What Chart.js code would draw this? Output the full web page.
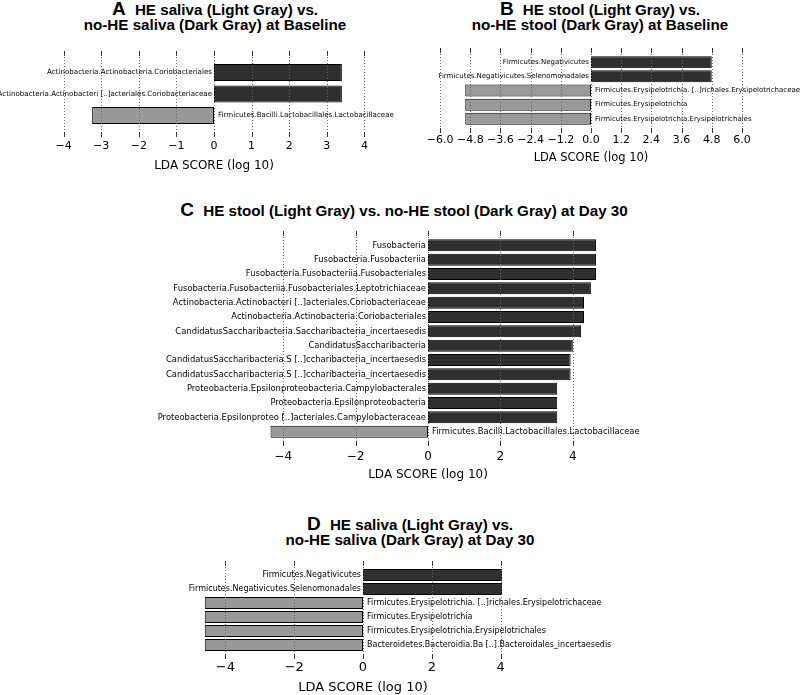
<!DOCTYPE html>
<html>
<head>
<meta charset="utf-8">
<script src="https://cdn.jsdelivr.net/npm/chart.js@4"></script>
<style>
  body { margin: 0; background: #fff; }
  #page { position: relative; width: 800px; height: 695px; overflow: hidden; }
  canvas { position: absolute; }
  .ttl { position: absolute; text-align: center; font-family: "Liberation Sans", Arial, sans-serif;
         font-weight: bold; font-size: 15.2px; line-height: 15px; color: #000; }
  .big { font-size: 19px; line-height: 15px; margin-right: 5px; }
</style>
</head>
<body>
<div id="page">
  <div class="ttl" style="left:15px;top:1px;width:400px">
    <div><span class="big">A</span> HE saliva (Light Gray) vs.</div>
    <div>no-HE saliva (Dark Gray) at Baseline</div>
  </div>
  <div class="ttl" style="left:400px;top:1px;width:400px">
    <div><span class="big">B</span> HE stool (Light Gray) vs.</div>
    <div>no-HE stool (Dark Gray) at Baseline</div>
  </div>
  <div class="ttl" style="left:4px;top:202px;width:800px">
    <div><span class="big">C</span> HE stool (Light Gray) vs. no-HE stool (Dark Gray) at Day 30</div>
  </div>
  <div class="ttl" style="left:10px;top:516px;width:800px">
    <div><span class="big">D</span> HE saliva (Light Gray) vs.</div>
    <div>no-HE saliva (Dark Gray) at Day 30</div>
  </div>
  <canvas id="chartA" width="400" height="140" style="left:0;top:40px"></canvas>
  <canvas id="chartB" width="400" height="140" style="left:400px;top:40px"></canvas>
  <canvas id="chartC" width="800" height="270" style="left:0;top:220px"></canvas>
  <canvas id="chartD" width="800" height="140" style="left:0;top:555px"></canvas>
</div>
<script>
// panel A - saliva at baseline
const labelsA = [
  'Actinobacteria.Actinobacteria.Coriobacteriales',
  'Actinobacteria.Actinobacteri [..]acteriales.Coriobacteriaceae',
  'Firmicutes.Bacilli.Lactobacillales.Lactobacillaceae'
];
const scoresA = [3.4, 3.4, -3.24];
const ticksA = [-4, -3, -2, -1, 0, 1, 2, 3, 4];

// panel B - stool at baseline
const labelsB = [
  'Firmicutes.Negativicutes',
  'Firmicutes.Negativicutes.Selenomonadales',
  'Firmicutes.Erysipelotrichia. [..]richales.Erysipelotrichaceae',
  'Firmicutes.Erysipelotrichia',
  'Firmicutes.Erysipelotrichia.Erysipelotrichales'
];
const scoresB = [4.8, 4.8, -5.0, -5.0, -5.0];
const ticksB = [-6.0, -4.8, -3.6, -2.4, -1.2, 0.0, 1.2, 2.4, 3.6, 4.8, 6.0];

// panel C - stool at day 30
const labelsC = [
  'Fusobacteria',
  'Fusobacteria.Fusobacteriia',
  'Fusobacteria.Fusobacteriia.Fusobacteriales',
  'Fusobacteria.Fusobacteriia.Fusobacteriales.Leptotrichiaceae',
  'Actinobacteria.Actinobacteri [..]acteriales.Coriobacteriaceae',
  'Actinobacteria.Actinobacteria.Coriobacteriales',
  'CandidatusSaccharibacteria.Saccharibacteria_incertaesedis',
  'CandidatusSaccharibacteria',
  'CandidatusSaccharibacteria.S [..]ccharibacteria_incertaesedis',
  'CandidatusSaccharibacteria.S [..]ccharibacteria_incertaesedis',
  'Proteobacteria.Epsilonproteobacteria.Campylobacterales',
  'Proteobacteria.Epsilonproteobacteria',
  'Proteobacteria.Epsilonproteo [..]acteriales.Campylobacteraceae',
  'Firmicutes.Bacilli.Lactobacillales.Lactobacillaceae'
];
const scoresC = [4.64, 4.64, 4.64, 4.5, 4.31, 4.31, 4.23, 4.0, 3.94, 3.94, 3.57, 3.57, 3.57, -4.35];
const ticksC = [-4, -2, 0, 2, 4];

// panel D - saliva at day 30
const labelsD = [
  'Firmicutes.Negativicutes',
  'Firmicutes.Negativicutes.Selenomonadales',
  'Firmicutes.Erysipelotrichia. [..]richales.Erysipelotrichaceae',
  'Firmicutes.Erysipelotrichia',
  'Firmicutes.Erysipelotrichia.Erysipelotrichales',
  'Bacteroidetes.Bacteroidia.Ba [..].Bacteroidales_incertaesedis'
];
const scoresD = [4.04, 4.04, -4.6, -4.6, -4.6, -4.6];
const ticksD = [-4, -2, 0, 2, 4];

const DARK = '#2f2f2f';
const LIGHT = '#999999';

// dotted grid, inward tick marks and the names next to the zero line
const lefsePlugin = {
  id: 'lefse',
  afterDatasetsDraw(chart, args, opts) {
    const { ctx, chartArea } = chart;
    const xs = chart.scales.x;
    ctx.save();
    ctx.strokeStyle = '#666';
    ctx.lineWidth = 1;
    ctx.setLineDash([1, 2]);
    opts.ticks.forEach(v => {
      const px = Math.round(xs.getPixelForValue(v)) + 0.5;
      ctx.beginPath();
      ctx.moveTo(px, chartArea.top);
      ctx.lineTo(px, chartArea.bottom);
      ctx.stroke();
    });
    ctx.setLineDash([]);
    ctx.strokeStyle = '#333';
    opts.ticks.forEach(v => {
      const px = Math.round(xs.getPixelForValue(v)) + 0.5;
      ctx.beginPath();
      ctx.moveTo(px, chartArea.top);
      ctx.lineTo(px, chartArea.top + 5);
      ctx.moveTo(px, chartArea.bottom - 5);
      ctx.lineTo(px, chartArea.bottom);
      ctx.stroke();
    });
    const x0 = xs.getPixelForValue(0);
    ctx.fillStyle = '#000';
    ctx.font = opts.labelSize + 'px "DejaVu Sans"';
    ctx.textBaseline = 'middle';
    const meta = chart.getDatasetMeta(0);
    meta.data.forEach((bar, i) => {
      const v = opts.scores[i];
      if (v > 0) {
        ctx.textAlign = 'right';
        ctx.fillText(opts.labels[i], x0 - 2, bar.y);
      } else {
        ctx.textAlign = 'left';
        ctx.fillText(opts.labels[i], x0 + 4, bar.y);
      }
    });
    ctx.restore();
  }
};

function fmtTick(v, dec) {
  const s = Math.abs(v).toFixed(dec);
  return v < 0 ? '\u2212' + s : s;
}

function makePanel(id, labels, scores, ticks, p) {
  new Chart(document.getElementById(id), {
    type: 'bar',
    data: {
      datasets: [{
        data: scores.map((v, i) => ({ x: v, y: i })),
        backgroundColor: scores.map(v => v > 0 ? DARK : LIGHT),
        borderColor: '#000',
        borderWidth: 1,
        borderSkipped: false,
        barPercentage: p.barPct,
        categoryPercentage: 1
      }]
    },
    options: {
      indexAxis: 'y',
      responsive: false,
      animation: false,
      layout: { padding: p.pad },
      scales: {
        y: {
          type: 'linear',
          offset: false,
          min: -1,
          max: labels.length,
          reverse: true,
          display: false,
          ticks: { stepSize: 1 }
        },
        x: {
          type: 'linear',
          min: -p.range,
          max: p.range,
          grid: { display: false, drawTicks: false },
          border: { display: false },
          afterBuildTicks: s => { s.ticks = ticks.map(v => ({ value: v })); },
          afterFit: s => { s.height = p.axisH; },
          ticks: {
            autoSkip: false,
            maxRotation: 0,
            padding: p.tickPad,
            color: '#000',
            font: { family: 'DejaVu Sans', size: p.tickSize },
            callback: v => fmtTick(v, p.dec)
          },
          title: {
            display: true,
            text: 'LDA SCORE (log 10)',
            color: '#000',
            padding: 0,
            font: { family: 'DejaVu Sans', size: p.titleSize }
          }
        }
      },
      plugins: {
        legend: { display: false },
        tooltip: { enabled: false },
        lefse: { ticks, labels, scores, labelSize: p.labelSize }
      }
    },
    plugins: [lefsePlugin]
  });
}

makePanel('chartA', labelsA, scoresA, ticksA, {
  range: 4.6, pad: { left: 41, right: 13, top: 11, bottom: 7 }, axisH: 36,
  tickPad: 3, tickSize: 11, titleSize: 12, labelSize: 7.1, barPct: 0.8, dec: 0
});
makePanel('chartB', labelsB, scoresB, ticksB, {
  range: 6.6, pad: { left: 25, right: 43, top: 8, bottom: 15 }, axisH: 32,
  tickPad: 1, tickSize: 11, titleSize: 11.5, labelSize: 7, barPct: 0.85, dec: 1
});
makePanel('chartC', labelsC, scoresC, ticksC, {
  range: 5, pad: { left: 247, right: 191, top: 11, bottom: 8 }, axisH: 36,
  tickPad: 4, tickSize: 12, titleSize: 12, labelSize: 8.4, barPct: 0.84, dec: 0
});
makePanel('chartD', labelsD, scoresD, ticksD, {
  range: 5, pad: { left: 191, right: 265, top: 6, bottom: 0 }, axisH: 36,
  tickPad: 1, tickSize: 13, titleSize: 13, labelSize: 8, barPct: 0.86, dec: 0
});
</script>
</body>
</html>
